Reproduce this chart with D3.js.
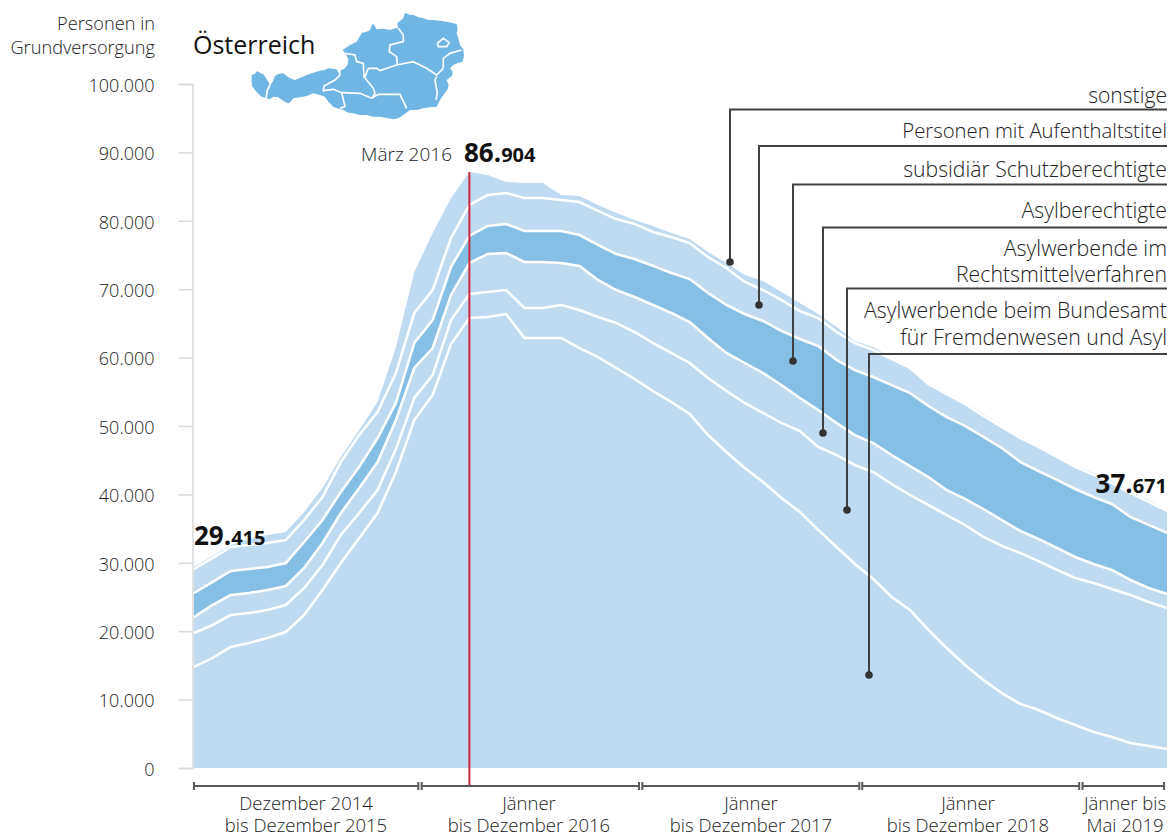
<!DOCTYPE html>
<html lang="de">
<head>
<meta charset="UTF-8">
<title>Personen in Grundversorgung</title>
<script src="https://d3js.org/d3.v7.min.js"></script>
<style>
    html, body { margin: 0; padding: 0; background: #fff; }
    svg { display: block; }
    text { font-family: "Open Sans", sans-serif; font-weight: 300; fill: #222; }
    .strong { font-weight: 700; fill: #111; }
    .axis text { font-size: 18px; }
    .axis path, .axis line { stroke: #d9d9d9; stroke-width: 1.5; }
</style>
</head>
<body>
<script>
    const width = 1170;
    const height = 835;

    // months from Dezember 2014 (0) to Mai 2019 (53), persons per status
    const bfa = [14770,16080,17690,18280,19010,19880,22370,26020,29970,33630,37280,43280,50880,54530,61990,65790,65940,66370,62870,62870,62870,61400,60090,58480,56870,55120,53510,51750,48680,46200,43860,41810,39470,37430,34800,32310,29820,27630,25000,23100,20180,17540,15060,12870,10970,9360,8480,7310,6290,5260,4530,3660,3220,2780];
    const rechtsmittel = [4970,4820,4680,4390,4090,3950,3950,3660,4090,3660,3360,3360,3220,2920,3510,3510,3660,3510,4390,4390,4820,5560,5850,6580,6870,7020,7160,7460,8330,8920,9500,10090,10970,11840,12130,13450,14470,15640,16520,16810,18280,19440,20470,20910,21490,22080,21780,21640,21490,21780,21640,21640,21050,20610];
    const asylberechtigte = [2340,2920,2920,2920,2920,2780,2920,3220,3220,3660,4090,4240,4390,3950,3660,4530,5560,5410,6730,6730,6140,6430,5410,4820,5120,5560,5850,5990,5850,5560,5850,5850,5560,4820,5410,4680,4390,4240,4240,4240,4090,3660,3800,4090,3800,3220,3220,3220,3070,2780,2780,2190,2050,2050];
    const subsidiaer = [3510,3360,3510,3510,3360,3360,3800,3360,3070,3070,3510,2490,3660,4090,4090,3950,4090,4240,4530,4530,4680,4530,5120,5260,5560,5700,5850,6290,6580,7020,7160,7600,7890,8630,9360,9210,9500,9650,10230,10670,10380,10670,10670,10530,10530,10090,9940,9940,9940,9800,9650,9210,9210,8920];
    const aufenthalt = [3510,3510,3510,3510,3510,3360,3220,3360,4390,4680,3800,4390,4390,4390,4240,4530,4530,4530,4820,4820,4530,4820,4970,5120,5120,4970,5260,5260,5260,5410,4680,4530,4530,4090,4090,4090,3950,3950,3800,3660,3220,3360,3220,3070,3070,3510,3510,3360,3220,3220,3070,3510,3360,3220];
    const sonstige = [290,290,290,880,1170,1170,1170,1320,730,730,1460,3800,5990,8330,5850,4820,2920,1610,2190,2190,730,880,880,880,580,880,580,580,730,730,1020,1320,1170,1170,580,730,290,440,150,150,150,150,150,290,150,150,150,150,150,290,290,150,290,150];

    const yTicks = [0,10000,20000,30000,40000,50000,60000,70000,80000,90000,100000];
    const peakMonth = 15;

    const seriesNames = ["bfa","rechtsmittel","asylberechtigte","subsidiaer","aufenthalt","sonstige"];
    const seriesValues = [bfa,rechtsmittel,asylberechtigte,subsidiaer,aufenthalt,sonstige];
    const seriesColors = ["#c0dbf1","#c0dbf1","#c0dbf1","#85bfe6","#c0dbf1","#c0dbf1"];

    // legend: label lines, y of the leader, x of the drop, y of the dot
    const legendLabels = [
        ["sonstige"],
        ["Personen mit Aufenthaltstitel"],
        ["subsidiär Schutzberechtigte"],
        ["Asylberechtigte"],
        ["Asylwerbende im","Rechtsmittelverfahren"],
        ["Asylwerbende beim Bundesamt","für Fremdenwesen und Asyl"]
    ];
    const legendFontSize = [21.1,20.3,21.2,21.2,21.3,21.3];
    const legendTextY = [[103],[138],[177],[218],[256,282],[318,345]];
    const legendRuleY = [109.5,146,184.5,227.5,288.5,354];
    const legendDropX = [730,759,793,823,847,869];
    const legendDotY = [262,305,361,433,510,675];

    // year brackets in month units
    const periodStart = [0,12.4,24.42,36.4,48.4];
    const periodEnd = [12.22,24.24,36.24,48.22,52.84];
    const periodLabels = [
        ["Dezember 2014","bis Dezember 2015"],
        ["Jänner","bis Dezember 2016"],
        ["Jänner","bis Dezember 2017"],
        ["Jänner","bis Dezember 2018"],
        ["Jänner bis","Mai 2019"]
    ];
    const periodLabelX = [306,529,751,968,1125];

    // map of Austria, rough outline, drawn in its own small coordinate box
    const mapOutline = [[215,225],[225,221],[232,213],[242,220],[250,222],[258,235],[265,245],[270,258],[278,245],[285,228],[295,222],[310,220],[320,228],[330,235],[345,240],[365,232],[380,225],[400,218],[420,212],[435,210],[445,205],[458,206],[470,208],[478,222],[483,210],[492,207],[503,195],[505,178],[498,163],[488,150],[510,135],[530,125],[540,108],[546,98],[560,95],[570,90],[578,70],[584,78],[590,88],[610,86],[630,90],[645,85],[654,85],[652,70],[670,55],[675,38],[688,44],[700,45],[715,52],[730,55],[745,60],[760,60],[780,62],[800,65],[815,68],[830,72],[833,88],[830,100],[836,118],[840,135],[850,148],[852,168],[848,185],[832,190],[820,195],[810,205],[818,215],[816,228],[800,240],[806,255],[803,268],[790,285],[780,300],[770,320],[750,322],[730,325],[710,330],[690,330],[670,345],[655,355],[640,358],[620,354],[600,350],[580,350],[560,345],[540,345],[520,340],[505,338],[490,330],[470,325],[460,320],[445,305],[435,290],[418,284],[400,280],[380,288],[360,292],[340,295],[332,305],[325,310],[310,303],[295,292],[280,290],[270,298],[258,295],[245,290],[232,278],[225,270],[216,258],[215,245]];
    const mapBorders = [
        [[270,255],[262,270],[258,297]],
        [[430,275],[432,258],[465,240],[480,225],[478,208]],
        [[430,272],[460,268],[485,278],[540,280],[575,295]],
        [[485,278],[495,320],[480,325]],
        [[497,160],[525,165],[530,185],[550,190],[552,230],[580,265],[585,280],[575,295]],
        [[575,295],[595,283],[660,283],[680,325]],
        [[555,230],[565,205],[590,205],[600,212],[650,195],[700,185],[740,205],[770,225],[790,205]],
        [[655,85],[670,105],[670,125],[630,135],[628,155],[650,170],[652,195]],
        [[770,230],[765,240],[772,280],[768,300]],
        [[772,130],[790,115],[808,128],[800,140],[775,140],[772,130]],
        [[790,205],[790,175],[810,160],[845,150]]
    ];

    const rows = bfa.map((d,i) => {
        const row = {month: i};
        seriesNames.forEach((name,s) => row[name] = seriesValues[s][i]);
        return row;
    });

    const scaleX = d3.scaleLinear().domain([0,53]).range([194,1167]);
    const scaleY = d3.scaleLinear().domain([0,100000]).range([768,84]);

    const stacked = d3.stack().keys(seriesNames)(rows);

    const area = d3.area()
                   .x(d => scaleX(d.data.month))
                   .y0(d => scaleY(d[0]))
                   .y1(d => scaleY(d[1]));
    const topLine = d3.line()
                      .x(d => scaleX(d.data.month))
                      .y(d => scaleY(d[1]));

    const svg = d3.select("body").append("svg").attr("width",width).attr("height",height);

    // axis
    const dePoint = d3.formatLocale({decimal: ",", thousands: ".", grouping: [3], currency: ["","€"]});
    const yAxis = d3.axisLeft(scaleY).tickValues(yTicks).tickFormat(dePoint.format(",")).tickSize(14).tickPadding(24);
    svg.append("g").attr("class","axis").attr("transform","translate(192.5,0)").call(yAxis);
    svg.selectAll(".axis text").attr("dy","0.4em");

    // layers
    svg.selectAll("path.layer").data(stacked).enter().append("path")
       .attr("class","layer")
       .attr("d",area)
       .attr("fill",(d,i) => seriesColors[i]);
    svg.selectAll("path.edge").data(stacked.slice(0,5)).enter().append("path")
       .attr("class","edge")
       .attr("d",topLine)
       .attr("fill","none")
       .attr("stroke","#fff")
       .attr("stroke-width",2.5);

    // peak marker
    svg.append("line")
       .attr("x1",scaleX(peakMonth)).attr("x2",scaleX(peakMonth))
       .attr("y1",172).attr("y2",786)
       .attr("stroke","#c8293a").attr("stroke-width",2);

    // year brackets
    const brackets = svg.append("g").attr("stroke","#595959").attr("stroke-width",2);
    periodStart.forEach((s,i) => {
        const x0 = scaleX(s);
        const x1 = scaleX(periodEnd[i]);
        brackets.append("line").attr("x1",x0).attr("x2",x1).attr("y1",786).attr("y2",786);
        brackets.append("line").attr("x1",x0).attr("x2",x0).attr("y1",782).attr("y2",790);
        brackets.append("line").attr("x1",x1).attr("x2",x1).attr("y1",782).attr("y2",790);
    });
    periodLabels.forEach((lines,i) => {
        lines.forEach((t,j) => {
            svg.append("text").attr("x",periodLabelX[i]).attr("y",810 + j*21.5)
               .attr("text-anchor","middle").attr("font-size",18.5).text(t);
        });
    });

    // legend with leaders
    legendLabels.forEach((lines,i) => {
        const ruleY = legendRuleY[i];
        svg.append("path")
           .attr("d",d3.line()([[1167,ruleY],[legendDropX[i],ruleY],[legendDropX[i],legendDotY[i]]]))
           .attr("fill","none").attr("stroke","#404040").attr("stroke-width",2);
        svg.append("circle").attr("cx",legendDropX[i]).attr("cy",legendDotY[i]).attr("r",3.8).attr("fill","#333");
        lines.forEach((t,j) => {
            svg.append("text").attr("x",1167).attr("y",legendTextY[i][j])
               .attr("text-anchor","end").attr("font-size",legendFontSize[i]).text(t);
        });
    });

    // value labels
    function bigNumber(x,y,anchor,head,tail) {
        const t = svg.append("text").attr("class","strong").attr("x",x).attr("y",y).attr("text-anchor",anchor);
        t.append("tspan").attr("class","strong").attr("font-size",26).text(head);
        t.append("tspan").attr("class","strong").attr("font-size",20).text(tail);
    }
    bigNumber(194,545,"start","29.","415");
    bigNumber(464,162,"start","86.","904");
    bigNumber(1167,493,"end","37.","671");
    svg.append("text").attr("x",452).attr("y",161).attr("text-anchor","end").attr("font-size",19).text("März 2016");

    // header
    svg.append("text").attr("x",155).attr("y",30).attr("text-anchor","end").attr("font-size",18.2).text("Personen in");
    svg.append("text").attr("x",155).attr("y",54).attr("text-anchor","end").attr("font-size",18.2).text("Grundversorgung");
    svg.append("text").attr("x",193).attr("y",54).attr("font-size",25).style("font-weight",400).style("fill","#111").text("Österreich");

    // map
    const map = svg.append("g").attr("transform","translate(180,0) scale(0.3333)");
    map.append("path").attr("d",d3.line()(mapOutline) + "Z").attr("fill","#6fb6e4");
    map.selectAll("path.border").data(mapBorders).enter().append("path")
       .attr("class","border")
       .attr("d",d3.line())
       .attr("fill","none").attr("stroke","#fff").attr("stroke-width",5);
</script>
</body>
</html>
